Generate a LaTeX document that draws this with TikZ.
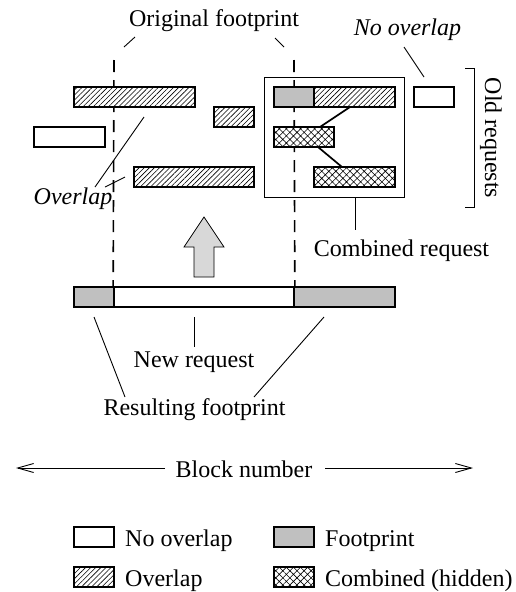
\documentclass[tikz,border=0pt]{standalone}
\usepackage{fontspec}
\setmainfont{Liberation Serif}
\usetikzlibrary{patterns.meta,arrows.meta}
\definecolor{fpgray}{HTML}{C0C0C0}
\definecolor{arrowgray}{HTML}{D8D8D8}
\tikzset{
  x=1pt, y=-1pt,
  every node/.style={font=\fontsize{24}{28}\selectfont},
  req/.style={draw, line width=1.7pt, rectangle, inner sep=0pt, minimum height=20pt},
  plainreq/.style={req, fill=white},
  fpreq/.style={req, fill=fpgray},
  ovreq/.style={req, preaction={fill=white}, pattern={Lines[angle=45,distance=3.6pt,line width=0.6pt]}},
  hidreq/.style={req, preaction={fill=white}, pattern={Hatch[angle=45,distance=5pt,line width=0.6pt]}},
  leader/.style={line width=0.9pt},
  joinline/.style={line width=1.7pt},
  fpline/.style={line width=1.6pt, dash pattern=on 12pt off 8pt},
  lbl/.style={inner sep=0pt, anchor=base},
  itlbl/.style={lbl, font=\fontsize{24}{28}\selectfont\itshape},
}
\begin{document}
\begin{tikzpicture}
\useasboundingbox (0,0) rectangle (515,592);

% new request with its resulting footprint
\node[fpreq, minimum width=40pt] (fl) at (94,297) {};
\node[fpreq, minimum width=101pt] (fr) at (344.5,297) {};
\node[plainreq, minimum width=180pt] (nw) at (204,297) {};

% original footprint boundaries
\coordinate (dl) at (114,60);
\coordinate (dr) at (294,60);
\draw[fpline] (dl) -- (nw.north west);
\draw[fpline] (dr) -- (nw.north east);

% old requests
\node[ovreq, minimum width=121pt] (h1) at (134.5,97) {};
\node[ovreq, minimum width=40pt] (h2) at (234,117) {};
\node[plainreq, minimum width=71pt] (w1) at (69.5,137) {};
\node[ovreq, minimum width=120pt] (h3) at (194,177) {};
\node[plainreq, minimum width=40pt] (w2) at (434,97) {};

% combined request
\node[draw, line width=1pt, rectangle, inner sep=0pt, minimum width=140pt, minimum height=120pt] (cb) at (334,137) {};
\node[fpreq, minimum width=40pt] (g1) at (294,97) {};
\node[ovreq, minimum width=81pt] (h4) at (354.5,97) {};
\node[hidreq, minimum width=60pt] (x1) at (304,137) {};
\node[hidreq, minimum width=81pt] (x2) at (354.5,177) {};
\coordinate (j1) at (350,107);
\coordinate (j2) at (320,127);
\coordinate (j3) at (318,147);
\coordinate (j4) at (342,167);
\draw[joinline] (j1) -- (j2);
\draw[joinline] (j3) -- (j4);

% upward arrow
\draw[line width=0.8pt, fill=arrowgray]
  (194,277) -- (194,247) -- (184,247) -- (204,217) -- (224,247) -- (214,247) -- (214,277) -- cycle;

% labels
\node[lbl] (orig) at (214,26) {Original footprint};
\coordinate (o1) at (124,47); \coordinate (o2) at (135,37);
\coordinate (o3) at (275,38); \coordinate (o4) at (284,47);
\draw[leader] (o1) -- (o2);
\draw[leader] (o3) -- (o4);

\node[itlbl] (noov) at (407.5,35) {No overlap};
\coordinate (n1) at (404,47); \coordinate (n2) at (424,77);
\draw[leader] (n1) -- (n2);

\node[itlbl] (ovl) at (73,204) {Overlap};
\coordinate (v1) at (144,117); \coordinate (v2) at (95,187);
\coordinate (v3) at (125,177); \coordinate (v4) at (105,187);
\draw[leader] (v1) -- (v2);
\draw[leader] (v3) -- (v4);

% old requests bracket
\coordinate (b1) at (474,68); \coordinate (b2) at (474,207);
\draw[line width=1pt] ([xshift=-9pt]b1) -- (b1) -- (b2) -- ([xshift=-9pt]b2);
\node[rotate=-90, inner sep=0pt] (old) at (491,138) {Old requests};

\node[lbl] (comb) at (401.5,256) {Combined request};
\coordinate (c1) at (355,230);
\draw[leader] (cb.south -| c1) -- (c1);

\node[lbl] (newr) at (194,367) {New request};
\coordinate (m1) at (194,317); \coordinate (m2) at (194,347);
\draw[leader] (m1) -- (m2);

\node[lbl] (res) at (194.5,415) {Resulting footprint};
\coordinate (r1) at (94,317); \coordinate (r2) at (125,397);
\coordinate (r3) at (324,317); \coordinate (r4) at (254,397);
\draw[leader] (r1) -- (r2);
\draw[leader] (r3) -- (r4);

% block number axis
\node[lbl] (blk) at (244,477) {Block number};
\coordinate (a1) at (165,468); \coordinate (a2) at (16,468);
\coordinate (a3) at (325,468); \coordinate (a4) at (473,468);
\draw[leader, -{Straight Barb[length=16pt,width=9pt]}] (a1) -- (a2);
\draw[leader, -{Straight Barb[length=16pt,width=9pt]}] (a3) -- (a4);

% legend
\node[plainreq, minimum width=40pt] (k1) at (94,537) {};
\node[lbl, anchor=base west] (k1t) at (125,546) {No overlap};
\node[fpreq, minimum width=40pt] (k2) at (294,537) {};
\node[lbl, anchor=base west] (k2t) at (325,546) {Footprint};
\node[ovreq, minimum width=40pt] (k3) at (94,577) {};
\node[lbl, anchor=base west] (k3t) at (125,586) {Overlap};
\node[hidreq, minimum width=40pt] (k4) at (294,577) {};
\node[lbl, anchor=base west] (k4t) at (325,586) {Combined (hidden)};
\end{tikzpicture}
\end{document}
